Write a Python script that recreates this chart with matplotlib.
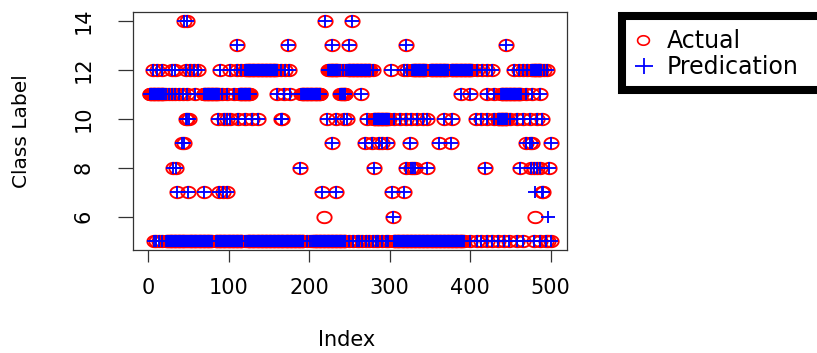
import numpy as np
import matplotlib
matplotlib.use("Agg")
import matplotlib.pyplot as plt
from matplotlib.path import Path
from matplotlib.patches import Rectangle

# ---------------- data ----------------
# For every class: single indices (sparse points) and dense runs (inclusive)
c14_pts = [45, 48, 220, 253]
c13_pts = [110, 174, 229, 249, 320, 445]
c12_pts = [6, 11, 17, 30, 34, 47, 52, 57, 62, 89, 102, 110, 115, 165, 170, 175,
           238, 242, 246, 279, 302, 318, 322, 409, 415, 421, 427, 454, 460, 465,
           471, 492, 495]
c12_runs = [(121, 160), (224, 236), (248, 276), (328, 345), (350, 372),
            (376, 402), (476, 488)]
c11_pts = [22, 26, 30, 34, 38, 43, 49, 59, 92, 98, 107, 160, 169, 176, 264,
           389, 400, 421, 429, 469, 477, 487]
c11_runs = [(2, 20), (69, 88), (113, 127), (190, 214), (239, 245), (438, 463)]
c10_pts = [47, 49, 51, 87, 94, 98, 102, 112, 121, 129, 137, 165, 167, 222, 233,
           243, 247, 272, 305, 313, 320, 327, 334, 342, 347, 367, 378, 407, 413,
           421, 429, 450, 458, 466, 474, 483, 489]
c10_runs = [(280, 299), (434, 446)]
c9_pts = [42, 45, 229, 270, 278, 287, 291, 297, 325, 361, 376, 469, 474, 477, 500]
c8_pts = [31, 35, 189, 280, 320, 326, 329, 332, 347, 418, 462, 475, 479, 483,
          487, 498]
c7_pts = [36, 50, 69, 88, 93, 98, 216, 233, 303, 318, 489, 491]
c6_pts = [304]
c5_pts = [7, 10, 14, 18, 22, 80, 120, 197, 201, 250, 255, 259, 262, 266, 271,
          274, 279, 283, 286, 290, 295, 298, 400, 409, 413, 421, 427, 434, 442,
          448, 458, 465, 479, 487, 494, 500]
c5_runs = [(24, 47), (49, 78), (84, 117), (123, 193), (204, 245), (305, 392)]

# indices where prediction differs from the actual class
miss_idx = [218, 481, 496]
miss_actual = [6, 6, 5]
miss_pred = [5, 7, 6]

x_ticks = [0, 100, 200, 300, 400, 500]
y_ticks = [6, 8, 10, 12, 14]
legend_labels = ["Actual", "Predication"]

# ---------------- assemble ----------------
classes = [
    (14, c14_pts, []), (13, c13_pts, []), (12, c12_pts, c12_runs),
    (11, c11_pts, c11_runs), (10, c10_pts, c10_runs), (9, c9_pts, []),
    (8, c8_pts, []), (7, c7_pts, []), (6, c6_pts, []), (5, c5_pts, c5_runs),
]
ax_x, ax_y = [], []
for val, pts, runs in classes:
    idx = set(pts)
    for a, b in runs:
        idx.update(range(a, b + 1))
    for i in sorted(idx):
        ax_x.append(i)
        ax_y.append(val)
actual_x = ax_x + miss_idx
actual_y = ax_y + miss_actual
pred_x = ax_x + miss_idx
pred_y = ax_y + miss_pred

# ---------------- markers (R-like, slightly wide) ----------------
th = np.linspace(0, 2 * np.pi, 80)
ell = Path(np.c_[1.25 * np.cos(th), np.sin(th)], closed=True)
plus = Path([(-1, 0), (1, 0), (0, -0.85), (0, 0.85)],
            [Path.MOVETO, Path.LINETO, Path.MOVETO, Path.LINETO])

W, H = 817, 353
fig = plt.figure(figsize=(W / 100, H / 100), dpi=100)
fig.patch.set_facecolor("white")
L, R, T, B = 132.7, 566.8, 12, 250
ax = fig.add_axes([L / W, 1 - B / H, (R - L) / W, (B - T) / H])

ax.plot(actual_x, actual_y, linestyle="none", marker=ell, markersize=10.3,
        markerfacecolor="none", markeredgecolor="#ff0000", markeredgewidth=1.35)
ax.plot(pred_x, pred_y, linestyle="none", marker=plus, markersize=9.4,
        markeredgecolor="#0000ff", markeredgewidth=1.35)

ax.set_xlim(-18.96, 519.96)
ax.set_ylim(4.64, 14.36)
ax.set_xticks(x_ticks)
ax.set_yticks(y_ticks)
ax.set_xticklabels([str(v) for v in x_ticks], fontsize=15, family="DejaVu Sans")
ax.set_yticklabels([str(v) for v in y_ticks], fontsize=15, family="DejaVu Sans",
                   rotation=90, va="center")
ax.tick_params(axis="x", direction="out", length=8.8, width=0.9, pad=11,
               color="#333333")
ax.tick_params(axis="y", direction="out", length=11, width=0.9, pad=17,
               color="#333333")
for s in ax.spines.values():
    s.set_linewidth(0.9)
    s.set_color("#333333")

fig.text(347 / W, 1 - 340 / H, "Index", fontsize=15, ha="center", va="center",
         family="DejaVu Sans")
fig.text(22 / W, 1 - 131 / H, "Class Label", fontsize=14.5, ha="center",
         va="center", rotation=90, family="DejaVu Sans")

# ---------------- legend (thick black box running off the right edge) ----
def fx(px):
    return px / W

def fy(py):
    return 1 - py / H

rect = Rectangle((fx(622), fy(90)), fx(860) - fx(622), fy(16) - fy(90),
                 transform=fig.transFigure, facecolor="white",
                 edgecolor="black", linewidth=5.8, clip_on=False)
fig.add_artist(rect)
fig.lines.append(plt.Line2D([fx(643)], [fy(40)], transform=fig.transFigure,
                            linestyle="none", marker=ell, markersize=8.5,
                            markerfacecolor="none", markeredgecolor="#ff0000",
                            markeredgewidth=1.2))
fig.lines.append(plt.Line2D([fx(644)], [fy(66)], transform=fig.transFigure,
                            linestyle="none", marker=plus, markersize=13,
                            markeredgecolor="#0000ff", markeredgewidth=1.3))
fig.text(fx(667), fy(41), legend_labels[0], fontsize=17, ha="left",
         va="center", family="DejaVu Sans")
fig.text(fx(667), fy(67), legend_labels[1], fontsize=17, ha="left",
         va="center", family="DejaVu Sans")

fig.savefig("out.png", dpi=100)
